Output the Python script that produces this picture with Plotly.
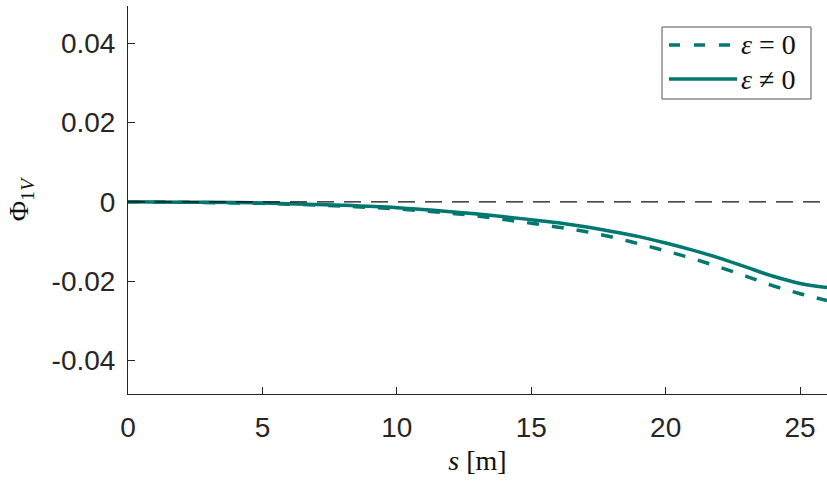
import plotly.graph_objects as go

s_vals = [0, 2, 4, 5, 6, 8, 10, 12, 13, 14, 15, 16, 17, 18, 19, 20, 21, 22, 23, 24, 25, 26]
phi_eps0 = [0, -0.0001, -0.0003, -0.0004, -0.0006, -0.0011, -0.0018, -0.0029, -0.0036, -0.0045,
            -0.0054, -0.0064, -0.0075, -0.0089, -0.0106, -0.0124, -0.0143, -0.0165, -0.0188,
            -0.0212, -0.0232, -0.0249]
phi_eps = [0, -0.0001, -0.0002, -0.0003, -0.0005, -0.0009, -0.0015, -0.0025, -0.0031, -0.0038,
           -0.0045, -0.0053, -0.0063, -0.0075, -0.0088, -0.0104, -0.0122, -0.0142, -0.0165,
           -0.0188, -0.0206, -0.0216]
zero_x = [0, 26]
zero_y = [0, 0]

x_ticks = [0, 5, 10, 15, 20, 25]
y_ticks = [0.04, 0.02, 0, -0.02, -0.04]
y_ticktext = ["0.04", "0.02", "0", "-0.02", "-0.04"]
legend_labels = ["<i>ε</i> = 0", "<i>ε</i> ≠ 0"]

teal = "#00776f"
axc = "#262626"
serif = "Liberation Serif, DejaVu Serif, serif"

W, H = 827, 481
ML, MR, MT, MB = 128, 0, 6, 87
PW, PH = W - ML - MR, H - MT - MB


def px(x):
    return (x - ML) / PW


def py(y):
    return 1 - (y - MT) / PH


fig = go.Figure()
fig.add_trace(go.Scatter(x=s_vals, y=phi_eps0, mode="lines", name=legend_labels[0], showlegend=False,
                         line=dict(color=teal, width=3.5, dash="12px,13px", shape="spline")))
fig.add_trace(go.Scatter(x=s_vals, y=phi_eps, mode="lines", name=legend_labels[1], showlegend=False,
                         line=dict(color=teal, width=3.5, shape="spline")))
fig.add_trace(go.Scatter(x=zero_x, y=zero_y, mode="lines", showlegend=False,
                         line=dict(color="#111111", width=1.3, dash="17px,10px")))

# legend box (drawn manually to get long MATLAB-style line samples)
shapes = [
    dict(type="rect", xref="paper", yref="paper", x0=px(662), x1=px(811), y0=py(99), y1=py(27),
         line=dict(color="#555555", width=1), fillcolor="white", layer="above"),
    dict(type="line", xref="paper", yref="paper", x0=px(669), x1=px(737), y0=py(45), y1=py(45),
         line=dict(color=teal, width=3.5, dash="11px,14px"), layer="above"),
    dict(type="line", xref="paper", yref="paper", x0=px(669), x1=px(737), y0=py(79), y1=py(79),
         line=dict(color=teal, width=3.5), layer="above"),
]
annotations = [
    dict(xref="paper", yref="paper", x=px(739), y=py(45), xanchor="left", yanchor="middle",
         text=legend_labels[0], showarrow=False, font=dict(family=serif, size=28, color="#111111")),
    dict(xref="paper", yref="paper", x=px(739), y=py(79), xanchor="left", yanchor="middle",
         text=legend_labels[1], showarrow=False, font=dict(family=serif, size=28, color="#111111")),
]

fig.update_layout(
    width=W, height=H,
    margin=dict(l=ML, r=MR, t=MT, b=MB, autoexpand=False),
    paper_bgcolor="white", plot_bgcolor="white",
    font=dict(family="Liberation Sans, Arial, sans-serif", size=28, color=axc),
    showlegend=False,
    shapes=shapes,
    annotations=annotations,
    xaxis=dict(range=[0, 26], tickvals=x_ticks, ticks="inside", ticklen=7, tickcolor=axc,
               showline=True, linecolor=axc, linewidth=1, showgrid=False, zeroline=False,
               tickfont=dict(size=28, color=axc), ticklabelstandoff=8,
               title=dict(text="<i>s</i> [m]", standoff=8,
                          font=dict(family=serif, size=28, color="#111111"))),
    yaxis=dict(range=[-0.0485, 0.0494], tickvals=y_ticks, ticktext=y_ticktext, ticks="inside",
               ticklen=7, tickcolor=axc, showline=True, linecolor=axc, linewidth=1,
               showgrid=False, zeroline=False, ticklabelstandoff=6,
               tickfont=dict(size=28, color=axc),
               title=dict(text="Φ<sub>1<i>V</i></sub>", standoff=14,
                          font=dict(family=serif, size=28, color="#111111"))),
)

fig.write_html("out.html", config={"displayModeBar": False},
               post_script="document.body.style.margin='0';document.body.style.padding='0';")
